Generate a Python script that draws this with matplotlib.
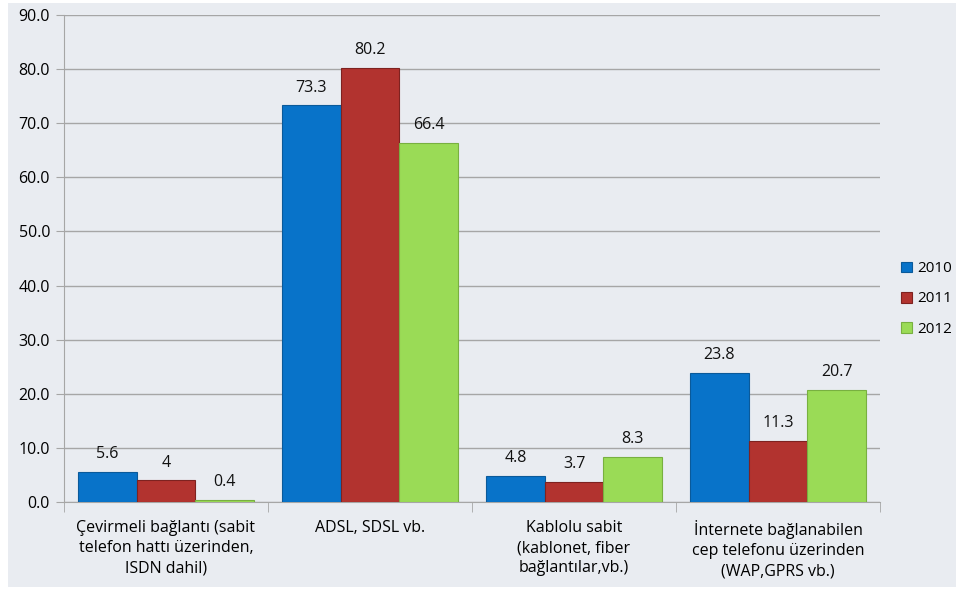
import numpy as np
import matplotlib.pyplot as plt
from matplotlib.patches import Rectangle

categories = [
    "Çevirmeli bağlantı (sabit\ntelefon hattı üzerinden,\nISDN dahil)",
    "ADSL, SDSL vb.",
    "Kablolu sabit\n(kablonet, fiber\nbağlantılar,vb.)",
    "İnternete bağlanabilen\ncep telefonu üzerinden\n(WAP,GPRS vb.)",
]
years = ["2010", "2011", "2012"]
v2010 = [5.6, 73.3, 4.8, 23.8]
v2011 = [4, 80.2, 3.7, 11.3]
v2012 = [0.4, 66.4, 8.3, 20.7]

colors = ["#0873C9", "#B2332F", "#9ADB56"]
edges = ["#0A5A9A", "#7E2220", "#78B040"]

plt.rcParams["font.family"] = ["Open Sans", "DejaVu Sans"]

fig = plt.figure(figsize=(9.56, 5.92), dpi=100)
fig.patch.set_facecolor("white")
fig.add_artist(Rectangle((8 / 956, 5 / 592), 1, 584 / 592, transform=fig.transFigure,
                         facecolor="#E9ECF1", edgecolor="none", zorder=0))

ax = fig.add_axes([64 / 956, 1 - 502 / 592, (880 - 64) / 956, (502 - 15) / 592])
ax.set_facecolor("none")

x = np.arange(len(categories))
w = 0.287
for i, (vals, c, e) in enumerate(zip([v2010, v2011, v2012], colors, edges)):
    bars = ax.bar(x + (i - 1) * w, vals, w, color=c, edgecolor=e, linewidth=0.8,
                  label=years[i], zorder=3)
    for b, v in zip(bars, vals):
        ax.annotate(f"{v:g}", (b.get_x() + b.get_width() / 2, v), xytext=(0, 7),
                    textcoords="offset points", ha="center", va="bottom",
                    fontsize=11.5, color="#111111")

ax.set_xlim(-0.5, 3.5)
ax.set_ylim(0, 90)
ax.set_yticks(np.arange(0, 91, 10))
ax.set_yticklabels([f"{t:.1f}" for t in range(0, 91, 10)], fontsize=11.5)
ax.yaxis.grid(True, color="#A6A6A6", linewidth=1)
ax.set_axisbelow(True)

ax.set_xticks(x)
ax.set_xticklabels(categories, fontsize=11.5, linespacing=1.35)
ax.tick_params(axis="x", length=0, pad=13)
ax.set_xticks(np.arange(-0.5, 4, 1), minor=True)
ax.tick_params(axis="x", which="minor", length=7, color="#A6A6A6", direction="out")
ax.tick_params(axis="y", length=6, color="#A6A6A6", pad=4)

for s in ["top", "right"]:
    ax.spines[s].set_visible(False)
for s in ["left", "bottom"]:
    ax.spines[s].set_color("#A6A6A6")

leg = ax.legend(loc="center left", bbox_to_anchor=(898 / 956, 1 - 299 / 592),
                bbox_transform=fig.transFigure, frameon=False, fontsize=11,
                handlelength=0.7, handleheight=0.7, handletextpad=0.35,
                labelspacing=1.0, borderpad=0.2, borderaxespad=0)

fig.savefig("out.png", dpi=100)
